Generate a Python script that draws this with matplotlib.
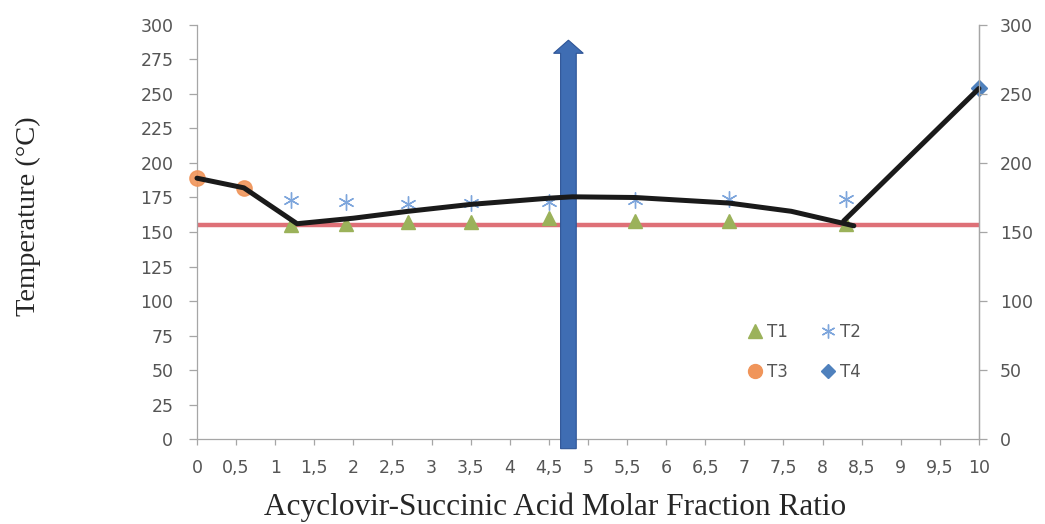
import matplotlib
matplotlib.use("Agg")
import matplotlib.pyplot as plt
from matplotlib.patches import FancyArrow
from matplotlib.lines import Line2D

# ---- data ----
t1_x = [1.2, 1.9, 2.7, 3.5, 4.5, 5.6, 6.8, 8.3]
t1_y = [155, 156, 157, 157, 160, 158, 158, 156]
t2_x = [1.2, 1.9, 2.7, 3.5, 4.5, 5.6, 6.8, 8.3]
t2_y = [173, 172, 170, 171, 172, 173, 174, 174]
t3_x = [0.0, 0.6]
t3_y = [189, 182]
t4_x = [10.0]
t4_y = [254]
eutectic_x = [0, 10]
eutectic_y = [155, 155]
curve_x = [0.0, 0.6, 1.28, 2.0, 2.7, 3.5, 4.5, 4.8, 5.6, 6.8, 7.6, 8.4]
curve_y = [189, 182, 156, 160, 165, 170, 174.5, 175.5, 175, 171, 165, 154.5]
rise_x = [8.27, 10.0]
rise_y = [158, 254]
arrow_x = 4.75
arrow_y0, arrow_y1 = -7, 289
x_ticks = [i * 0.5 for i in range(21)]
x_labels = ["0", "0,5", "1", "1,5", "2", "2,5", "3", "3,5", "4", "4,5", "5",
            "5,5", "6", "6,5", "7", "7,5", "8", "8,5", "9", "9,5", "10"]
y_ticks_left = list(range(0, 301, 25))
y_ticks_right = list(range(0, 301, 50))

gray = "#555555"
spine_gray = "#a6a6a6"
tick_font = {"family": "DejaVu Sans", "size": 12.5}

fig = plt.figure(figsize=(10.45, 5.24), dpi=100)
ax = fig.add_axes([0.1885, 0.1622, 0.7483, 0.7901])
ax.set_xlim(0, 10)
ax.set_ylim(0, 300)

# red reference line
ax.plot(eutectic_x, eutectic_y, color="#d9575f", lw=3.2, alpha=0.85, zorder=2, solid_capstyle="butt")

# blue arrow
arr = FancyArrow(arrow_x, arrow_y0, 0, arrow_y1 - arrow_y0, width=0.2, head_width=0.38,
                 head_length=9.5, length_includes_head=True, color="#3f6db3",
                 ec="#2f5597", lw=0.8, zorder=4, clip_on=False)
ax.add_patch(arr)

# markers
ax.plot(t1_x, t1_y, ls="none", marker="^", ms=9.5, color="#9bb25a", zorder=3, clip_on=False)
ax.plot(t2_x, t2_y, ls="none", marker=(6, 2, 0), ms=11.5, mew=1.0, color="#7ea6dc", zorder=3, clip_on=False)
ax.plot(t3_x, t3_y, ls="none", marker="o", ms=11, color="#f0955a", alpha=0.9, zorder=3, clip_on=False)
ax.plot(t4_x, t4_y, ls="none", marker="D", ms=8, color="#4f81bd", zorder=3, clip_on=False)

# black trend lines
ax.plot(curve_x, curve_y, color="#1a1a1a", lw=3.6, zorder=5, solid_capstyle="round", clip_on=False)
ax.plot(rise_x, rise_y, color="#1a1a1a", lw=3.6, zorder=5, solid_capstyle="round", clip_on=False)

# axes styling
ax.spines["top"].set_visible(False)
for s in ["left", "right", "bottom"]:
    ax.spines[s].set_color(spine_gray)
    ax.spines[s].set_linewidth(0.9)

ax.set_xticks(x_ticks)
ax.set_xticklabels(x_labels, fontdict=tick_font)
ax.set_yticks(y_ticks_left)
ax.set_yticklabels([str(v) for v in y_ticks_left], fontdict=tick_font)
ax.tick_params(axis="both", direction="out", width=0.9, color=spine_gray, labelcolor=gray)
ax.tick_params(axis="x", length=4.5, pad=10)
ax.tick_params(axis="y", length=6, pad=11)

ax2 = ax.twinx()
ax2.set_ylim(0, 300)
ax2.set_yticks(y_ticks_right)
ax2.set_yticklabels([str(v) for v in y_ticks_right], fontdict=tick_font)
for s in ["top", "left", "bottom"]:
    ax2.spines[s].set_visible(False)
ax2.spines["right"].set_color(spine_gray)
ax2.spines["right"].set_linewidth(0.9)
ax2.tick_params(axis="y", direction="out", length=6, width=0.9, color=spine_gray,
                labelcolor=gray, pad=9)

fig.text(0.027, 0.588, "Temperature (\u00b0C)", rotation=90, ha="center", va="center",
         family="Liberation Serif", fontsize=20.5, color="#262626")
fig.text(0.531, 0.032, "Acyclovir-Succinic Acid Molar Fraction Ratio", ha="center", va="center",
         family="Liberation Serif", fontsize=22.5, color="#262626")

# legend: row 1 T1, T2 ; row 2 T3, T4 (column-major order for ncol=2)
handles = [
    Line2D([], [], ls="none", marker="^", ms=9.5, color="#9bb25a"),
    Line2D([], [], ls="none", marker="o", ms=10, color="#f0955a"),
    Line2D([], [], ls="none", marker=(6, 2, 0), ms=10, mew=1.0, color="#7ea6dc"),
    Line2D([], [], ls="none", marker="D", ms=7, color="#4f81bd"),
]
labels = ["T1", "T3", "T2", "T4"]
leg = ax.legend(handles, labels, ncol=2, loc="center",
                bbox_to_anchor=(0.777, 0.21), frameon=False, handlelength=0.8,
                handletextpad=0.3, columnspacing=2.0, labelspacing=1.35,
                prop={"family": "DejaVu Sans", "size": 12})
for t in leg.get_texts():
    t.set_color(gray)

fig.savefig("out.png", dpi=100)
